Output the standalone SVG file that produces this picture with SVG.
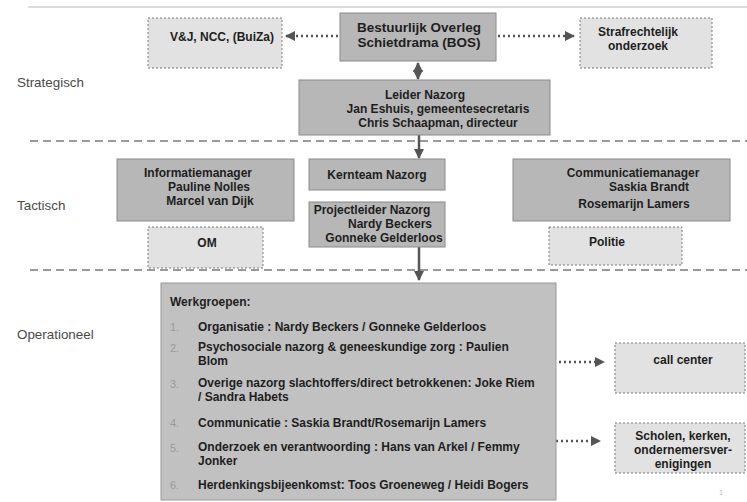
<svg xmlns="http://www.w3.org/2000/svg" width="747" height="502" viewBox="0 0 747 502">
<defs>
<style>
.t{font-family:"Liberation Sans",Arial,sans-serif;font-weight:bold;font-size:12px;fill:#1e1e1e;text-anchor:middle}
.tl{font-family:"Liberation Sans",Arial,sans-serif;font-weight:bold;font-size:12px;fill:#1e1e1e}
.num{font-family:"Liberation Sans",Arial,sans-serif;font-size:11px;fill:#9a9a9a}
.lvl{font-family:"Liberation Sans",Arial,sans-serif;font-size:13.4px;fill:#4a4a4a}
.solid{fill:#b7b7b7;stroke:#8a8a8a;stroke-width:1}
.dash{fill:#e2e2e2;stroke:#7a7a7a;stroke-width:1;stroke-dasharray:2,2}
.sep{stroke:#7a7a7a;stroke-width:1.5;stroke-dasharray:8,5;fill:none}
.dot{stroke:#555;stroke-width:2.5;stroke-dasharray:2,3;fill:none}
.arr{stroke:#555;stroke-width:2.5;fill:none}
</style>
<marker id="ah" viewBox="0 0 10 10" refX="9" refY="5" markerWidth="4" markerHeight="4" orient="auto-start-reverse" markerUnits="strokeWidth">
<path d="M0,0 L10,5 L0,10 z" fill="#555"/>
</marker>
</defs>
<rect width="747" height="502" fill="#ffffff"/>
<line x1="28" y1="7" x2="747" y2="7" stroke="#dcdcdc" stroke-width="2"/>
<g id="levels">
<text class="lvl" x="17" y="87">Strategisch</text>
<text class="lvl" x="17" y="210">Tactisch</text>
<text class="lvl" x="17" y="339">Operationeel</text>
<line class="sep" x1="30" y1="141" x2="747" y2="141"/>
<line class="sep" x1="30" y1="270" x2="747" y2="270"/>
</g>
<g id="connectors">
<line class="dot" x1="338" y1="36" x2="286" y2="36" marker-end="url(#ah)"/>
<line class="dot" x1="498" y1="36" x2="574" y2="36" marker-end="url(#ah)"/>
<line class="arr" x1="418" y1="63" x2="418" y2="79" marker-start="url(#ah)" marker-end="url(#ah)"/>
<line class="arr" x1="419" y1="135" x2="419" y2="158" marker-end="url(#ah)"/>
<line class="arr" x1="419" y1="247" x2="419" y2="280" marker-end="url(#ah)"/>
<line class="dot" x1="559" y1="362" x2="604" y2="362" marker-end="url(#ah)"/>
<line class="dot" x1="556" y1="441" x2="600" y2="441" marker-end="url(#ah)"/>
</g>
<g id="vjncc">
<rect class="dash" x="148" y="18" width="134" height="50"/>
<text class="t" x="222" y="41">V&amp;J, NCC, (BuiZa)</text>
</g>
<g id="bos">
<rect class="solid" x="340" y="13" width="156" height="48"/>
<text class="t" x="419" y="32" style="font-size:13.5px">Bestuurlijk Overleg</text>
<text class="t" x="419" y="47" style="font-size:13.5px">Schietdrama (BOS)</text>
</g>
<g id="straf">
<rect class="dash" x="580" y="18" width="132" height="50"/>
<text class="t" x="638" y="36">Strafrechtelijk</text>
<text class="t" x="638" y="50">onderzoek</text>
</g>
<g id="leider">
<rect class="solid" x="299" y="80" width="251" height="55"/>
<text class="t" x="425" y="99">Leider Nazorg</text>
<text class="t" x="438" y="113">Jan Eshuis, gemeentesecretaris</text>
<text class="t" x="438" y="127">Chris Schaapman, directeur</text>
</g>
<g id="infomanager">
<rect class="solid" x="117" y="159" width="177" height="62"/>
<text class="t" x="198" y="177">Informatiemanager</text>
<text class="t" x="209" y="191">Pauline Nolles</text>
<text class="t" x="210" y="205">Marcel van Dijk</text>
</g>
<g id="om">
<rect class="dash" x="148" y="227" width="115" height="41"/>
<text class="t" x="207" y="247">OM</text>
</g>
<g id="kernteam">
<rect class="solid" x="309" y="159" width="136" height="31"/>
<text class="t" x="377" y="179">Kernteam Nazorg</text>
</g>
<g id="projectleider">
<rect class="solid" x="309" y="202" width="136" height="45"/>
<text class="t" x="372" y="214">Projectleider Nazorg</text>
<text class="t" x="390" y="228">Nardy Beckers</text>
<text class="t" x="384" y="242">Gonneke Gelderloos</text>
</g>
<g id="commmanager">
<rect class="solid" x="513" y="159" width="217" height="62"/>
<text class="t" x="633" y="177">Communicatiemanager</text>
<text class="t" x="649" y="191">Saskia Brandt</text>
<text class="t" x="634" y="208">Rosemarijn Lamers</text>
</g>
<g id="politie">
<rect class="dash" x="549" y="227" width="133" height="38"/>
<text class="t" x="607" y="246">Politie</text>
</g>
<g id="werkgroepen">
<rect x="161" y="283" width="395" height="217" fill="#c1c1c1" stroke="#9a9a9a" stroke-width="1"/>
<text class="tl" x="170" y="306">Werkgroepen:</text>
<text class="num" x="170" y="331">1.</text>
<text class="tl" x="198" y="331">Organisatie : Nardy Beckers / Gonneke Gelderloos</text>
<text class="num" x="170" y="352">2.</text>
<text class="tl" x="198" y="351">Psychosociale nazorg &amp; geneeskundige zorg : Paulien</text>
<text class="tl" x="198" y="365">Blom</text>
<text class="num" x="170" y="388">3.</text>
<text class="tl" x="198" y="387">Overige nazorg slachtoffers/direct betrokkenen: Joke Riem</text>
<text class="tl" x="198" y="401">/ Sandra Habets</text>
<text class="num" x="170" y="427">4.</text>
<text class="tl" x="198" y="427">Communicatie : Saskia Brandt/Rosemarijn Lamers</text>
<text class="num" x="170" y="452">5.</text>
<text class="tl" x="198" y="451">Onderzoek en verantwoording : Hans van Arkel / Femmy</text>
<text class="tl" x="198" y="465">Jonker</text>
<text class="num" x="170" y="489">6.</text>
<text class="tl" x="198" y="489">Herdenkingsbijeenkomst: Toos Groeneweg / Heidi Bogers</text>
</g>
<g id="callcenter">
<rect class="dash" x="615" y="343" width="130" height="50"/>
<text class="t" x="683" y="364">call center</text>
</g>
<g id="scholen">
<rect class="dash" x="615" y="423" width="130" height="50"/>
<text class="t" x="683" y="440">Scholen, kerken,</text>
<text class="t" x="683" y="454">ondernemersver-</text>
<text class="t" x="683" y="468">enigingen</text>
</g>
<text x="719" y="495" style="font-family:'Liberation Sans',Arial,sans-serif;font-size:7px;fill:#bbb">1</text>
</svg>
